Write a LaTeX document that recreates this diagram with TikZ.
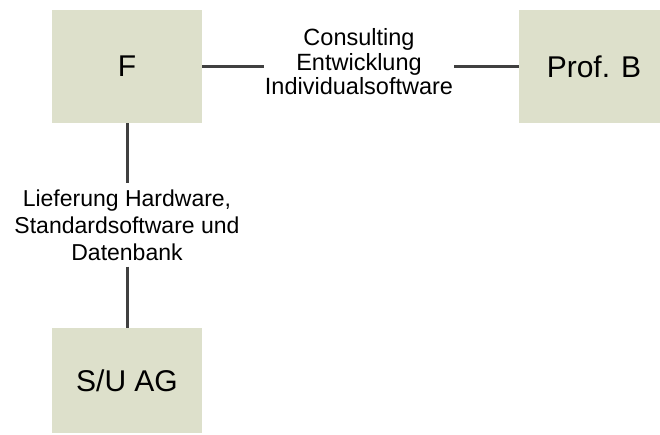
\documentclass[tikz,border=0pt]{standalone}
\usepackage{fontspec}
\setmainfont{Liberation Sans}
\definecolor{boxfill}{RGB}{221,224,203}
\definecolor{linkgray}{RGB}{64,64,64}
\begin{document}
\begin{tikzpicture}[x=1pt,y=-1pt,
  party/.style={rectangle, fill=boxfill, draw=none, minimum width=150pt,
    font=\fontsize{30}{34}\selectfont, inner sep=0pt},
  relation/.style={align=center, inner sep=1pt},
  link/.style={draw=linkgray, line width=3pt}]
  \useasboundingbox (0,0) rectangle (660,434);
  \clip (0,0) rectangle (660,434);

  % parties
  \node[party, minimum height=113pt] (F) at (127,66.5) {F};
  \node[party, minimum height=113pt] (B) at (594,66.5) {Prof. B};
  \node[party, minimum height=105pt] (SU) at (127,380.5) {S/U AG};

  % relation labels
  \node[relation, font=\fontsize{23.5}{24.5}\selectfont] (dev) at (359,62)
    {Consulting\\Entwicklung\\Individualsoftware};
  \node[relation, font=\fontsize{23}{27}\selectfont, inner ysep=6pt] (supply) at (127,225)
    {Lieferung Hardware,\\Standardsoftware und\\Datenbank};

  % connectors
  \path[link] (F.east) -- (F.east -| dev.west);
  \path[link] (B.west -| dev.east) -- (B.west);
  \path[link] (F.south) -- (supply.north);
  \path[link] (supply.south) -- (SU.north);
\end{tikzpicture}
\end{document}
